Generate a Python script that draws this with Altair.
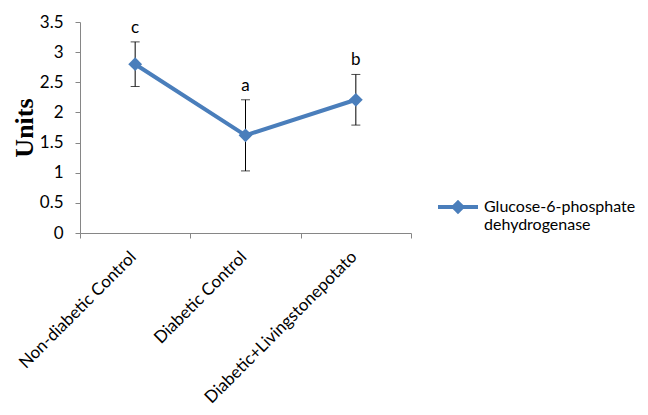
import altair as alt
import pandas as pd

groups = ["Non-diabetic Control", "Diabetic Control", "Diabetic+Livingstonepotato"]
means = [2.80, 1.62, 2.21]
errors = [0.37, 0.59, 0.42]
letters = ["c", "a", "b"]
series = "Glucose-6-phosphate dehydrogenase"

df = pd.DataFrame({
    "group": groups,
    "mean": means,
    "lo": [m - e for m, e in zip(means, errors)],
    "hi": [m + e for m, e in zip(means, errors)],
    "letter": letters,
    "series": [series] * len(groups),
})

BLUE = "#4A7EBB"
FONT = "Lato"
FS = 17

x = alt.X("group:N", sort=groups,
          scale=alt.Scale(type="band", paddingInner=0, paddingOuter=0),
          axis=alt.Axis(title=None, labelAngle=-45, labelAlign="right", labelBaseline="middle",
                        labelPadding=16, labelOffset=-2, labelFontSize=FS, labelFont=FONT,
                        labelColor="#000000", domainColor="#868686", tickColor="#868686", tickSize=5,
                        tickBand="extent", grid=False, labelLimit=300))
yscale = alt.Scale(domain=[0, 3.5], nice=False, zero=True)
yaxis = alt.Axis(title="Units", titleFont="Liberation Serif", titleFontSize=26, titleFontWeight="bold",
                 titleColor="#000000", titlePadding=2, values=[0, 0.5, 1, 1.5, 2, 2.5, 3, 3.5],
                 format=".1~f", labelFontSize=FS, labelFont=FONT, labelColor="#000000",
                 domainColor="#868686", tickColor="#868686", tickSize=5, grid=False, labelPadding=12,
                 labelOverlap=False)


def Y(field):
    return alt.Y(field, scale=yscale, axis=yaxis)


base = alt.Chart(df)

rules = base.mark_rule(color="#000000", strokeWidth=1).encode(
    x=x, y=Y("lo:Q"), y2="hi:Q")

caps_hi = base.mark_tick(color="#000000", thickness=1, size=9, orient="horizontal").encode(
    x=x, y=Y("hi:Q"))
caps_lo = base.mark_tick(color="#000000", thickness=1, size=9, orient="horizontal").encode(
    x=x, y=Y("lo:Q"))

line = base.mark_line(strokeWidth=4).encode(
    x=x,
    y=Y("mean:Q"),
    color=alt.Color("series:N", scale=alt.Scale(range=[BLUE]),
                    legend=alt.Legend(title=None, orient="none", legendX=356, legendY=163,
                                      labelExpr="split(datum.label, ' ')",
                                      labelFontSize=16, labelFont=FONT, labelColor="#000000",
                                      symbolType="M-1,0L1,0M0,-0.22L0.22,0L0,0.22L-0.22,0Z",
                                      symbolSize=1600, symbolStrokeWidth=4,
                                      symbolFillColor=BLUE, labelOffset=4, labelLimit=300)),
)

points = base.mark_point(shape="diamond", filled=True, size=190, color=BLUE, opacity=1).encode(
    x=x, y=Y("mean:Q"))

labels = base.mark_text(dy=-5, baseline="bottom", fontSize=FS, font=FONT, color="#000000").encode(
    x=x, y=Y("hi:Q"), text="letter:N")

chart = alt.layer(rules, caps_hi, caps_lo, line, points, labels).properties(
    width=331, height=211,
    autosize=alt.AutoSizeParams(type="none"),
    padding={"left": 72, "top": 14, "right": 229, "bottom": 174},
    background="white",
).configure_view(stroke=None)

chart.save("out.html", embed_options={"renderer": "svg", "actions": False})
